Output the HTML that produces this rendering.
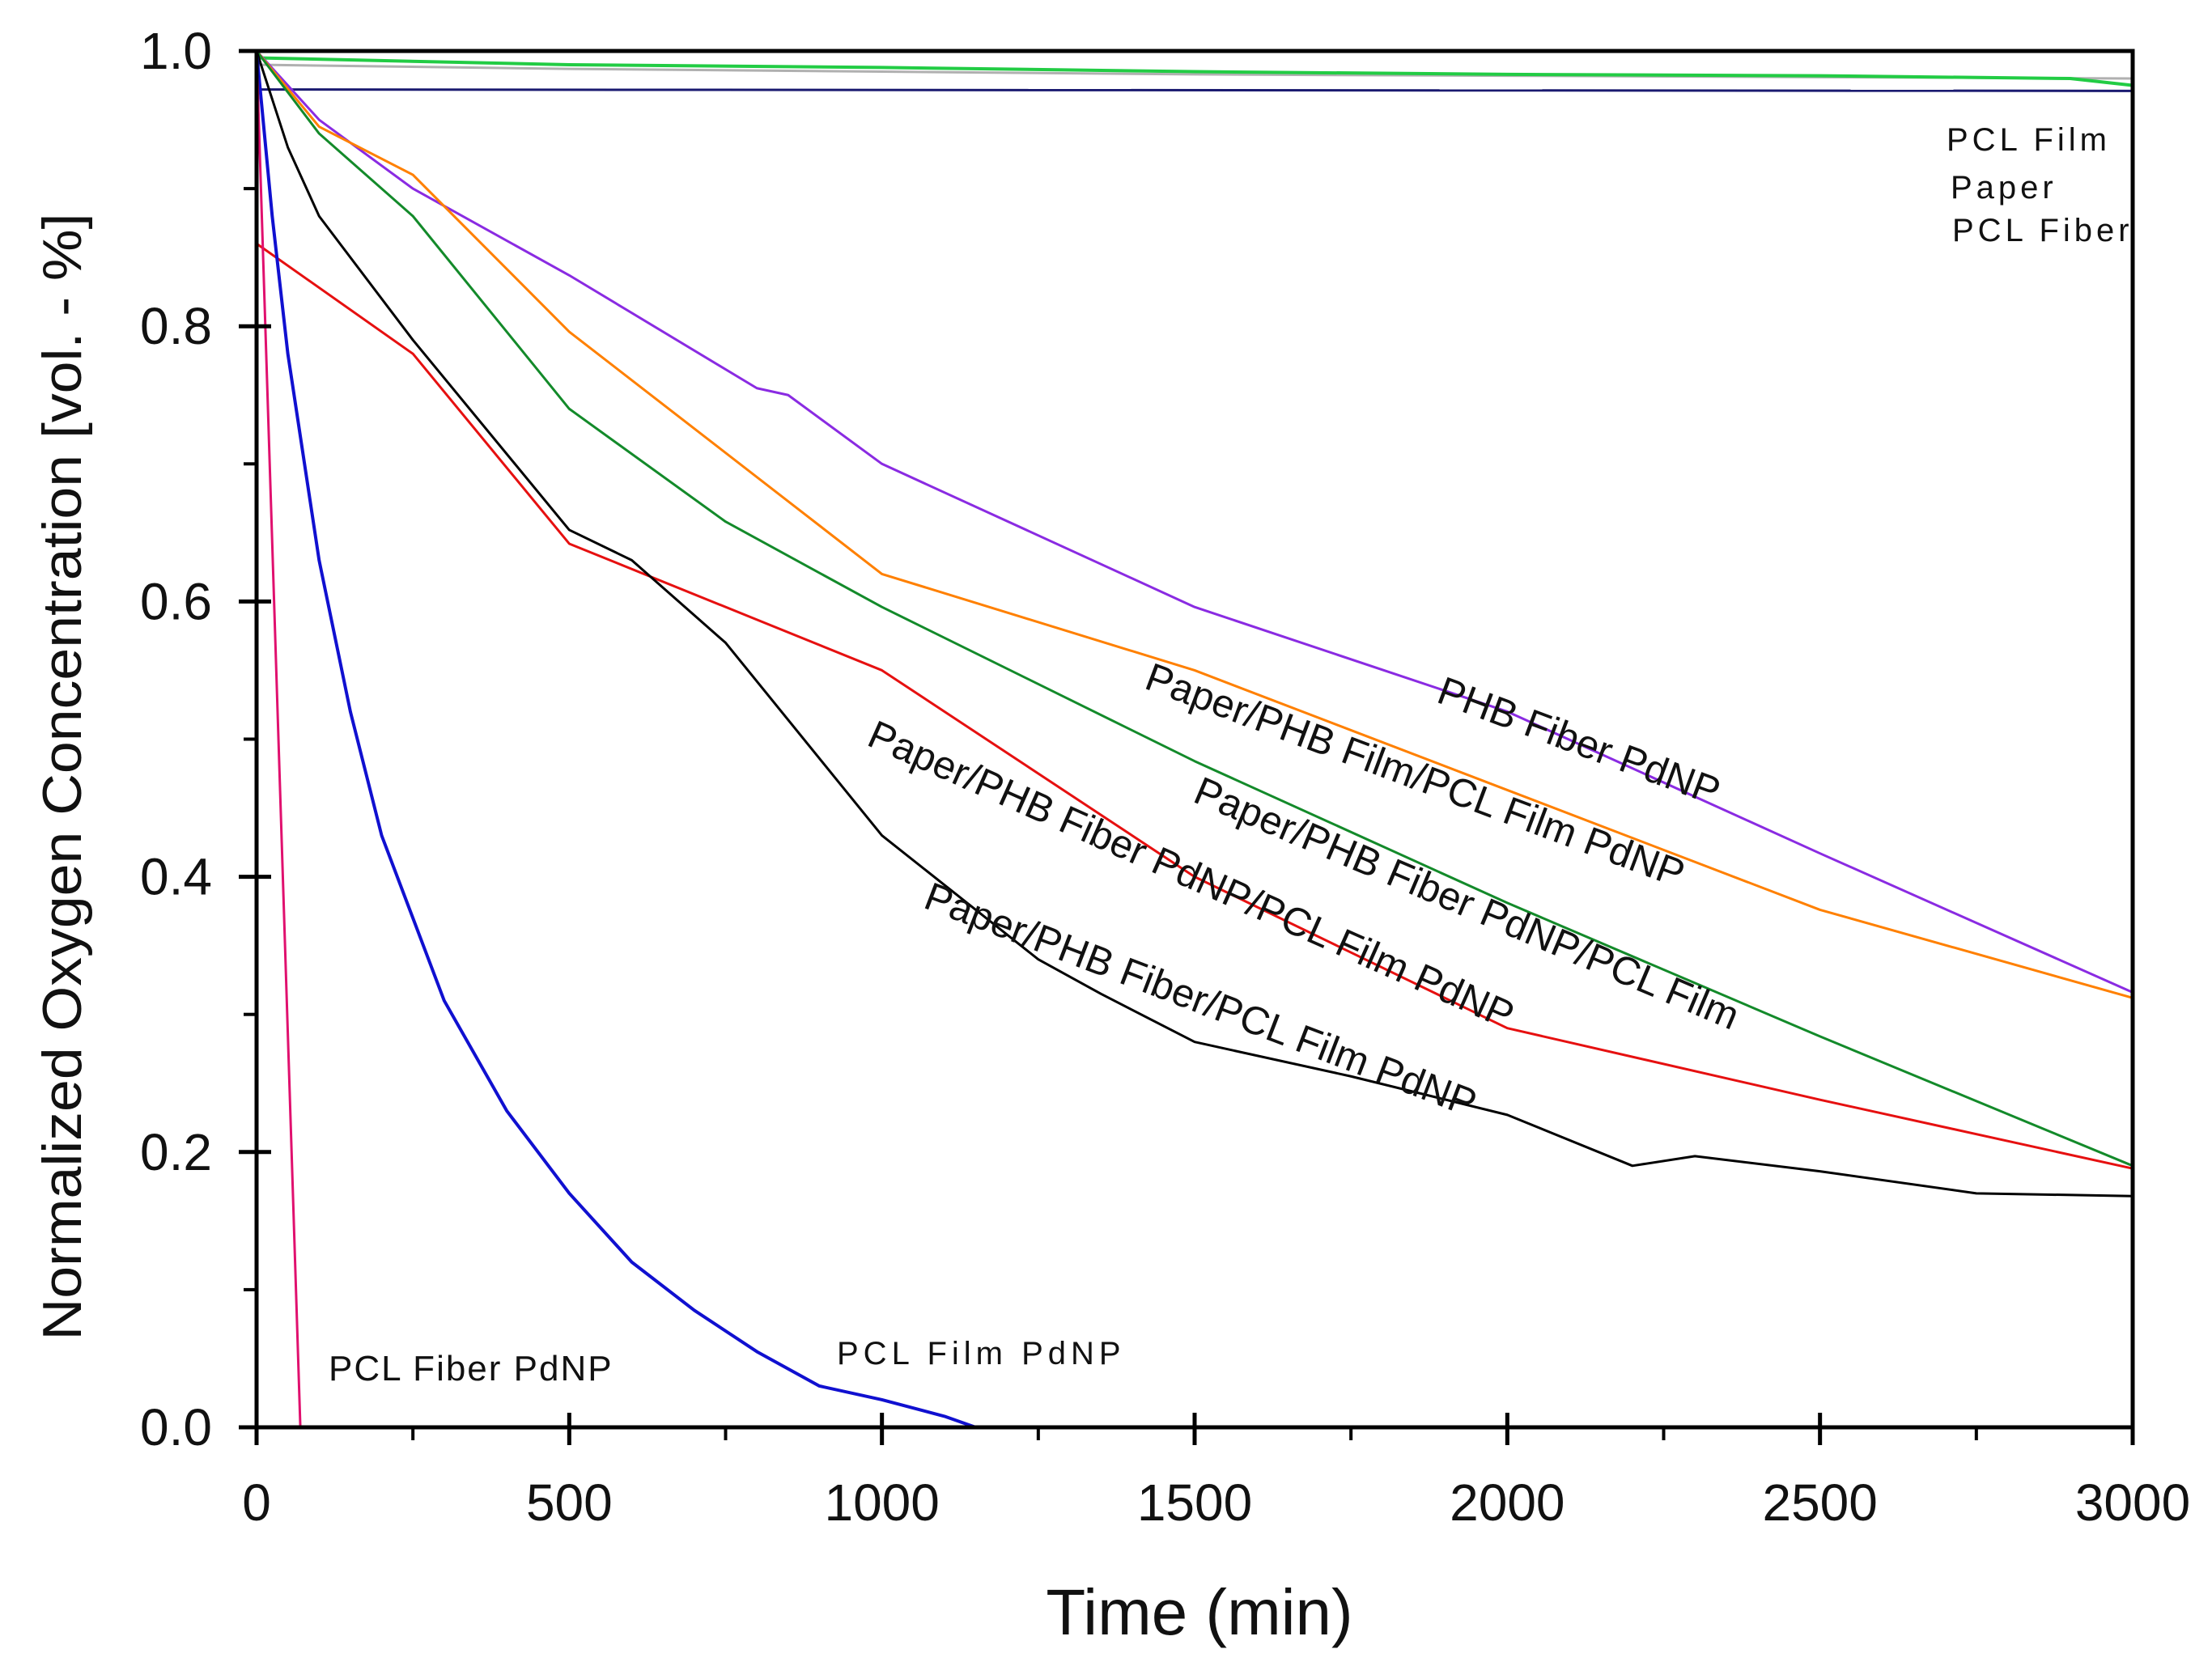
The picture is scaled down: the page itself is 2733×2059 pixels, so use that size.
<!DOCTYPE html>
<html><head><meta charset="utf-8"><style>
html,body{margin:0;padding:0;background:#fff}
svg{display:block}
text{font-family:"Liberation Sans",Arial,sans-serif;fill:#111}
</style></head><body>
<svg id="chart" width="2733" height="2059" viewBox="0 0 2733 2059" xmlns="http://www.w3.org/2000/svg">
<g id="series"></g>
<g id="axes"></g>
<g id="labels">
<text x="1773" y="867" font-size="49" transform="rotate(20.5 1773 867)">PHB Fiber PdNP</text>
<text x="1412" y="850" font-size="49" transform="rotate(20.5 1412 850)">Paper/PHB Film/PCL Film PdNP</text>
<text x="1472" y="990" font-size="49" transform="rotate(23 1472 990)">Paper/PHB Fiber PdNP/PCL Film</text>
<text x="1069" y="920" font-size="49" transform="rotate(24 1069 920)">Paper/PHB Fiber PdNP/PCL Film PdNP</text>
<text x="1139" y="1121" font-size="49" transform="rotate(21 1139 1121)">Paper/PHB Fiber/PCL Film PdNP</text>
<text x="406" y="1706" font-size="44" letter-spacing="2">PCL Fiber PdNP</text>
<text x="1034" y="1686" font-size="40" letter-spacing="6">PCL Film PdNP</text>
<text x="2405" y="186" font-size="40" letter-spacing="5">PCL Film</text>
<text x="2410" y="245" font-size="40" letter-spacing="5">Paper</text>
<text x="2412" y="298" font-size="40" letter-spacing="5">PCL Fiber</text>
<text x="1482" y="2020" font-size="80" text-anchor="middle">Time (min)</text>
<text x="0" y="0" font-size="68" text-anchor="middle" textLength="1393" lengthAdjust="spacingAndGlyphs" transform="translate(100 960) rotate(-90)">Normalized Oxygen Concentration  [vol. - %]</text>
</g>
</svg>
<script>
const xTicks=[0,500,1000,1500,2000,2500,3000];
const yTicks=[0.0,0.2,0.4,0.6,0.8,1.0];
const yTickLabels=["0.0","0.2","0.4","0.6","0.8","1.0"];
const tPurple=[0,100,250,500,800,850,1000,1500,2000,2500,3000];
const vPurple=[1,0.95,0.90,0.837,0.755,0.75,0.70,0.596,0.52,0.417,0.316];
const tOrange=[0,100,250,500,1000,1500,2000,2500,3000];
const vOrange=[1,0.945,0.91,0.796,0.62,0.55,0.463,0.376,0.312];
const tGreen=[0,100,250,500,750,1000,1500,2000,2500,3000];
const vGreen=[1,0.94,0.88,0.74,0.658,0.596,0.484,0.381,0.284,0.19];
const tRed=[0,250,500,1000,1500,2000,2500,3000];
const vRed=[0.86,0.78,0.642,0.55,0.40,0.29,0.238,0.188];
const tBlack=[0,50,100,250,500,600,750,1000,1250,1350,1500,1750,2000,2200,2300,2500,2750,3000];
const vBlack=[1,0.93,0.88,0.79,0.652,0.63,0.57,0.43,0.34,0.315,0.28,0.255,0.227,0.19,0.197,0.186,0.17,0.168];
const tBlue=[0,25,50,100,150,200,250,300,400,500,600,700,800,900,1000,1100,1150,3000];
const vBlue=[1,0.88,0.78,0.63,0.52,0.43,0.37,0.31,0.23,0.17,0.12,0.085,0.055,0.03,0.02,0.008,0,0];
const tMagenta=[0,70,3000];
const vMagenta=[1,0,0];
const tTopGreen=[0,500,1000,1500,2000,2500,2900,3000];
const vTopGreen=[0.995,0.99,0.988,0.985,0.983,0.982,0.98,0.975];
const tTopGrey=[0,500,1000,1500,2000,2500,3000];
const vTopGrey=[0.99,0.987,0.985,0.983,0.982,0.981,0.98];
const tTopNavy=[0,3000];
const vTopNavy=[0.972,0.971];

const L=317,R=2635,T=63,B=1764;
const X=t=>L+(t/3000)*(R-L);
const Y=v=>B-v*(B-T);
const NS="http://www.w3.org/2000/svg";
const ser=document.getElementById('series'),ax=document.getElementById('axes');
function line(ts,vs,color,w,name){
  const p=document.createElementNS(NS,'polyline');
  p.setAttribute('points',ts.map((t,i)=>X(t)+','+Y(vs[i])).join(' '));
  p.setAttribute('fill','none');p.setAttribute('stroke',color);p.setAttribute('stroke-width',w);
  p.setAttribute('stroke-linejoin','round');
  
  
  ser.appendChild(p);
}
line(tTopGrey,vTopGrey,'#b0b0b0',3,'series-paper');
line(tTopGreen,vTopGreen,'#22cc44',4,'series-pcl-film');
line(tTopNavy,vTopNavy,'#1a1a70',3,'series-pcl-fiber');
line(tPurple,vPurple,'#8a2be2',3,'series-phb-fiber-pdnp');
line(tOrange,vOrange,'#ff8000',3,'series-paper-phb-film-pcl-film-pdnp');
line(tGreen,vGreen,'#138a2a',3,'series-paper-phb-fiber-pdnp-pcl-film');
line(tRed,vRed,'#e61010',3,'series-paper-phb-fiber-pdnp-pcl-film-pdnp');
line(tBlack,vBlack,'#000',3,'series-paper-phb-fiber-pcl-film-pdnp');
line(tBlue,vBlue,'#1010d0',4,'series-pcl-film-pdnp');
line(tMagenta,vMagenta,'#e0106e',3,'series-pcl-fiber-pdnp');

function ln(x1,y1,x2,y2,w,name){
  const l=document.createElementNS(NS,'line');
  l.setAttribute('x1',x1);l.setAttribute('y1',y1);l.setAttribute('x2',x2);l.setAttribute('y2',y2);
  l.setAttribute('stroke','#000');l.setAttribute('stroke-width',w);
  
  
  ax.appendChild(l);
}
function tx(x,y,s,anchor,size,name){
  const e=document.createElementNS(NS,'text');
  e.setAttribute('x',x);e.setAttribute('y',y);e.setAttribute('text-anchor',anchor);e.setAttribute('font-size',size);
  e.textContent=s;
  
  
  ax.appendChild(e);
}
const fr=document.createElementNS(NS,'rect');
fr.setAttribute('x',L);fr.setAttribute('y',T);fr.setAttribute('width',R-L);fr.setAttribute('height',B-T);
fr.setAttribute('fill','none');fr.setAttribute('stroke','#000');fr.setAttribute('stroke-width',5);


ax.appendChild(fr);
xTicks.forEach((t,i)=>{
  ln(X(t),B-18,X(t),B+22,5,'x-tick');
  tx(X(t),B+115,String(t),'middle',64,'x-tick-label');
  if(i<xTicks.length-1){const m=(t+xTicks[i+1])/2; ln(X(m),B,X(m),B+16,4,'x-minor-tick');}
});
yTicks.forEach((v,i)=>{
  ln(L-22,Y(v),L+18,Y(v),5,'y-tick');
  tx(L-55,Y(v)+22,yTickLabels[i],'end',64,'y-tick-label');
  if(i<yTicks.length-1){const m=(v+yTicks[i+1])/2; ln(L-16,Y(m),L,Y(m),4,'y-minor-tick');}
});
</script>
</body></html>
